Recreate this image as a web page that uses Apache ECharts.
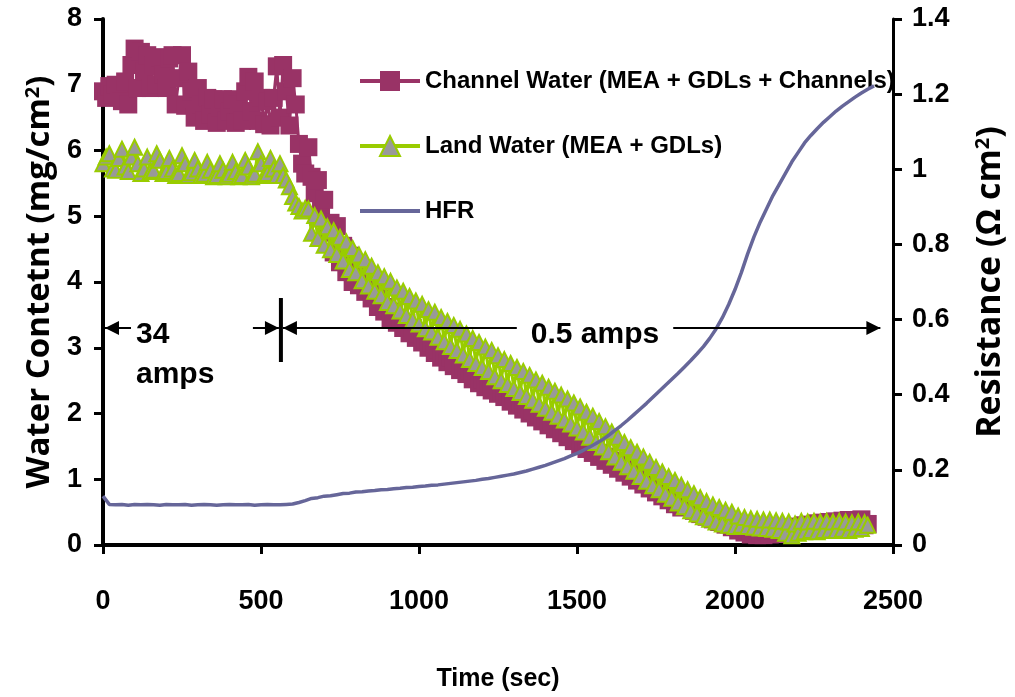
<!DOCTYPE html>
<html>
<head>
<meta charset="utf-8">
<title>Water content and HFR during drying</title>
<script src="https://cdn.jsdelivr.net/npm/echarts@6/dist/echarts.min.js"></script>
<style>
  html, body { margin: 0; padding: 0; background: #ffffff; }
  #chart { width: 1015px; height: 697px; }
</style>
</head>
<body>
<div id="chart"></div>
<script>
// Water readings (s), one every 10 s
const waterTime = [0,10,20,30,40,50,60,70,80,90,100,110,120,130,140,150,160,170,180,190,200,210,220,230,240,250,260,270,280,290,300,310,320,330,340,350,360,370,380,390,400,410,420,430,440,450,460,470,480,490,500,510,520,530,540,550,560,570,580,590,600,610,620,630,640,650,660,670,680,690,700,710,720,730,740,750,760,770,780,790,800,810,820,830,840,850,860,870,880,890,900,910,920,930,940,950,960,970,980,990,1000,1010,1020,1030,1040,1050,1060,1070,1080,1090,1100,1110,1120,1130,1140,1150,1160,1170,1180,1190,1200,1210,1220,1230,1240,1250,1260,1270,1280,1290,1300,1310,1320,1330,1340,1350,1360,1370,1380,1390,1400,1410,1420,1430,1440,1450,1460,1470,1480,1490,1500,1510,1520,1530,1540,1550,1560,1570,1580,1590,1600,1610,1620,1630,1640,1650,1660,1670,1680,1690,1700,1710,1720,1730,1740,1750,1760,1770,1780,1790,1800,1810,1820,1830,1840,1850,1860,1870,1880,1890,1900,1910,1920,1930,1940,1950,1960,1970,1980,1990,2000,2010,2020,2030,2040,2050,2060,2070,2080,2090,2100,2110,2120,2130,2140,2150,2160,2170,2180,2190,2200,2210,2220,2230,2240,2250,2260,2270,2280,2290,2300,2310,2320,2330,2340,2350,2360,2370,2380,2390,2400,2410,2420];

// Water content, MEA + GDLs + channels (mg/cm^2)
const channelWater = [6.9,6.8,6.98,6.85,7.0,6.82,6.75,7.05,6.7,7.3,7.55,6.95,7.5,7.2,7.45,6.95,7.3,7.0,7.42,7.15,6.95,7.4,7.45,6.7,7.1,7.45,6.68,7.2,6.9,6.5,6.95,6.7,6.45,6.8,6.55,6.78,6.42,6.65,6.78,6.45,6.6,6.78,6.42,6.7,6.45,6.9,7.12,6.6,7.05,6.45,6.8,6.4,6.75,6.38,6.8,7.28,6.5,7.3,6.9,6.38,7.1,6.7,6.1,5.8,5.65,6.05,5.6,5.35,5.55,5.1,5.25,4.75,4.9,4.45,4.85,4.3,4.55,4.15,4.4,4.0,4.25,3.95,4.1,3.85,3.98,3.75,3.88,3.62,3.75,3.55,3.62,3.45,3.55,3.38,3.45,3.3,3.38,3.22,3.3,3.15,3.22,3.08,3.12,3.0,3.08,2.92,2.98,2.85,2.92,2.78,2.85,2.72,2.78,2.66,2.72,2.6,2.65,2.52,2.58,2.46,2.52,2.4,2.45,2.35,2.4,2.3,2.33,2.25,2.28,2.18,2.22,2.12,2.16,2.06,2.1,2.0,2.04,1.94,1.98,1.88,1.94,1.82,1.88,1.76,1.82,1.7,1.75,1.64,1.7,1.58,1.64,1.52,1.58,1.46,1.52,1.4,1.46,1.34,1.4,1.28,1.34,1.22,1.28,1.16,1.22,1.1,1.16,1.04,1.1,0.98,1.04,0.92,0.98,0.86,0.92,0.8,0.86,0.74,0.8,0.68,0.74,0.62,0.68,0.57,0.62,0.58,0.62,0.52,0.56,0.47,0.52,0.43,0.48,0.39,0.44,0.35,0.4,0.31,0.35,0.27,0.3,0.22,0.26,0.19,0.23,0.16,0.2,0.15,0.19,0.15,0.2,0.16,0.22,0.17,0.23,0.18,0.25,0.2,0.27,0.22,0.28,0.23,0.3,0.25,0.31,0.26,0.33,0.27,0.34,0.28,0.35,0.29,0.36,0.3,0.37,0.3,0.38,0.31,0.38,0.31,0.39,0.3,0.32];

// Water content, MEA + GDLs under the lands (mg/cm^2)
const landWater = [5.8,5.9,5.95,5.72,5.7,5.88,6.02,5.75,5.68,5.9,6.05,5.8,5.65,5.72,5.9,5.68,5.7,5.95,5.85,5.65,5.68,5.88,5.72,5.62,5.65,5.92,5.8,5.62,5.66,5.85,5.72,5.62,5.64,5.82,5.7,5.6,5.62,5.8,5.7,5.6,5.64,5.82,5.68,5.6,5.62,5.85,5.75,5.6,5.64,5.98,5.8,5.62,5.65,5.88,5.72,5.62,5.8,5.62,5.55,5.45,5.3,5.2,5.15,5.08,5.12,5.11,4.74,5.01,4.66,4.96,4.56,4.84,4.49,4.78,4.42,4.68,4.32,4.61,4.19,4.51,4.14,4.41,4.02,4.34,3.94,4.24,3.86,4.14,3.79,4.08,3.69,4.01,3.64,3.91,3.56,3.86,3.49,3.78,3.42,3.71,3.36,3.66,3.29,3.58,3.24,3.54,3.16,3.46,3.09,3.4,3.02,3.34,2.96,3.28,2.89,3.21,2.82,3.14,2.76,3.08,2.7,3.01,2.64,2.96,2.56,2.88,2.5,2.82,2.44,2.76,2.38,2.7,2.32,2.64,2.26,2.58,2.2,2.51,2.14,2.46,2.08,2.4,2.02,2.34,1.96,2.28,1.9,2.22,1.84,2.16,1.78,2.1,1.72,2.02,1.64,1.96,1.56,1.88,1.49,1.8,1.42,1.72,1.34,1.64,1.26,1.56,1.19,1.48,1.12,1.41,1.04,1.34,0.97,1.26,0.9,1.18,0.84,1.11,0.77,1.04,0.71,0.98,0.64,0.91,0.58,0.84,0.52,0.78,0.47,0.72,0.43,0.66,0.39,0.61,0.35,0.57,0.32,0.53,0.3,0.5,0.28,0.44,0.3,0.42,0.28,0.4,0.27,0.39,0.26,0.38,0.25,0.38,0.24,0.37,0.22,0.36,0.18,0.35,0.14,0.32,0.18,0.36,0.2,0.35,0.22,0.36,0.2,0.35,0.22,0.36,0.23,0.35,0.22,0.36,0.24,0.35,0.22,0.34,0.24,0.35,0.25,0.34,0.3];

// HFR readings (s), one every 20 s
const hfrTime = [0,20,40,60,80,100,120,140,160,180,200,220,240,260,280,300,320,340,360,380,400,420,440,460,480,500,520,540,560,580,600,620,640,660,680,700,720,740,760,780,800,820,840,860,880,900,920,940,960,980,1000,1020,1040,1060,1080,1100,1120,1140,1160,1180,1200,1220,1240,1260,1280,1300,1320,1340,1360,1380,1400,1420,1440,1460,1480,1500,1520,1540,1560,1580,1600,1620,1640,1660,1680,1700,1720,1740,1760,1780,1800,1820,1840,1860,1880,1900,1920,1940,1960,1980,2000,2020,2040,2060,2080,2100,2120,2140,2160,2180,2200,2220,2240,2260,2280,2300,2320,2340,2360,2380,2400,2420,2440];

// High-frequency resistance (Ohm cm^2)
const hfr = [0.13,0.108,0.107,0.108,0.106,0.108,0.107,0.108,0.107,0.106,0.108,0.107,0.107,0.108,0.106,0.107,0.108,0.107,0.106,0.107,0.108,0.107,0.107,0.108,0.106,0.107,0.108,0.107,0.107,0.108,0.109,0.113,0.118,0.124,0.126,0.13,0.131,0.134,0.137,0.138,0.141,0.142,0.144,0.145,0.147,0.148,0.15,0.151,0.153,0.154,0.156,0.157,0.159,0.16,0.162,0.164,0.166,0.168,0.17,0.172,0.175,0.177,0.18,0.183,0.186,0.189,0.193,0.197,0.202,0.207,0.212,0.218,0.224,0.23,0.237,0.244,0.252,0.261,0.27,0.28,0.292,0.305,0.318,0.332,0.347,0.362,0.377,0.393,0.409,0.425,0.441,0.457,0.474,0.491,0.509,0.528,0.55,0.575,0.605,0.64,0.68,0.725,0.775,0.82,0.86,0.895,0.93,0.96,0.99,1.02,1.045,1.07,1.09,1.108,1.125,1.14,1.155,1.168,1.18,1.192,1.203,1.213,1.222];

// Load-step annotation: 34 A until the switch, then 0.5 A
const switchTime = 563;
const annotLevel = 3.3;
const annotEndTime = 2460;
const lowCurrentLabelTime = 1557;

const SERIES_CHANNEL = 'Channel Water (MEA + GDLs + Channels)';
const SERIES_LAND = 'Land Water (MEA + GDLs)';
const SERIES_HFR = 'HFR';

const FONT_ARIAL = '"Liberation Sans", Arial, sans-serif';
const FONT_TITLE = '"Open Sans", "Noto Sans", sans-serif';

const pair = (xs, ys) => ys.map((v, i) => [xs[i], v]);

const chart = echarts.init(document.getElementById('chart'), null, { renderer: 'canvas' });

const tickLabel = { color: '#000', fontFamily: FONT_ARIAL, fontWeight: 'bold', fontSize: 27 };
const axisBlack = (w) => ({ show: true, onZero: false, lineStyle: { color: '#000', width: w } });
const tickBlack = { show: true, length: 9, lineStyle: { color: '#000', width: 3 } };
const supStyle = { fontFamily: FONT_TITLE, fontWeight: 'bold', fontSize: 20, verticalAlign: 'top', color: '#000' };

chart.setOption({
  animation: false,
  backgroundColor: '#ffffff',
  grid: { left: 103, right: 122, top: 19, bottom: 144, containLabel: false },
  legend: {
    orient: 'vertical',
    left: 353,
    top: 61,
    itemWidth: 60,
    itemHeight: 25,
    itemGap: 35,
    textStyle: { color: '#000', fontFamily: FONT_ARIAL, fontWeight: 'bold', fontSize: 24, lineHeight: 30 },
    data: [
      { name: SERIES_CHANNEL, lineStyle: { width: 4 } },
      { name: SERIES_LAND, lineStyle: { width: 4 } },
      { name: SERIES_HFR, lineStyle: { width: 4 }, itemStyle: { opacity: 0 } }
    ]
  },
  xAxis: {
    type: 'value',
    min: 0, max: 2500, interval: 500,
    axisLine: axisBlack(4),
    axisTick: tickBlack,
    splitLine: { show: false },
    axisLabel: Object.assign({ margin: 43, formatter: (v) => String(v) }, tickLabel),
    name: 'Time (sec)',
    nameLocation: 'middle',
    nameGap: 122,
    nameTextStyle: { color: '#000', fontFamily: FONT_ARIAL, fontWeight: 'bold', fontSize: 25 }
  },
  yAxis: [
    {
      type: 'value',
      position: 'left',
      min: 0, max: 8, interval: 1,
      axisLine: axisBlack(4),
      axisTick: tickBlack,
      splitLine: { show: false },
      axisLabel: Object.assign({ margin: 21 }, tickLabel),
      name: 'Water Contetnt (mg/cm{sup|2})',
      nameLocation: 'middle',
      nameRotate: 90,
      nameGap: 41,
      nameTextStyle: {
        color: '#000', fontFamily: FONT_TITLE, fontWeight: 'bold', fontSize: 33,
        rich: { sup: supStyle }
      }
    },
    {
      type: 'value',
      position: 'right',
      min: 0, max: 1.4, interval: 0.2,
      axisLine: axisBlack(3),
      axisTick: tickBlack,
      splitLine: { show: false },
      axisLabel: Object.assign({ margin: 19, formatter: (v) => String(Math.round(v * 10) / 10) }, tickLabel),
      name: 'Resistance (\u03A9 cm{sup|2})',
      nameLocation: 'middle',
      nameRotate: 90,
      nameGap: 80,
      nameTextStyle: {
        color: '#000', fontFamily: FONT_TITLE, fontWeight: 'bold', fontSize: 34,
        rich: { sup: supStyle }
      }
    }
  ],
  series: [
    {
      name: SERIES_CHANNEL,
      type: 'line',
      data: pair(waterTime, channelWater),
      symbol: 'rect',
      symbolSize: 18,
      showAllSymbol: true,
      itemStyle: { color: '#993366' },
      lineStyle: { color: '#993366', width: 3 },
      z: 2
    },
    {
      name: SERIES_LAND,
      type: 'line',
      data: pair(waterTime, landWater),
      symbol: 'triangle',
      symbolSize: 15,
      showAllSymbol: true,
      itemStyle: { color: '#999999', borderColor: '#99CC00', borderWidth: 2 },
      lineStyle: { color: '#99CC00', width: 3 },
      z: 3
    },
    {
      name: SERIES_HFR,
      type: 'line',
      yAxisIndex: 1,
      data: pair(hfrTime, hfr),
      symbol: 'none',
      itemStyle: { color: '#666699' },
      lineStyle: { color: '#666699', width: 3.5 },
      z: 4
    }
  ]
});

// Current-step annotation, placed through the axes
const px = (t) => chart.convertToPixel({ xAxisIndex: 0 }, t);
const yLevel = chart.convertToPixel({ yAxisIndex: 0 }, annotLevel);
const x0 = px(0);
const xs = px(switchTime);
const xe = px(annotEndTime);

function hLine(xa, xb) {
  return { type: 'line', z: 100, shape: { x1: xa, y1: yLevel, x2: xb, y2: yLevel }, style: { stroke: '#000', lineWidth: 2 } };
}
// dir = -1 points left, +1 points right
function arrowHead(tipX, dir) {
  return {
    type: 'polygon', z: 101,
    shape: { points: [[tipX, yLevel], [tipX - dir * 14, yLevel - 7], [tipX - dir * 14, yLevel + 7]] },
    style: { fill: '#000' }
  };
}
function label(text, x, y, align, bg) {
  return {
    type: 'text', z: 102, x: x, y: y,
    style: {
      text: text, fill: '#000', font: 'bold 30px ' + FONT_ARIAL,
      align: align, verticalAlign: 'middle',
      backgroundColor: bg || null, padding: bg ? [2, 14] : 0
    }
  };
}

chart.setOption({
  graphic: [
    hLine(x0 + 2, x0 + 28),
    arrowHead(x0 + 2, -1),
    label('34', x0 + 33, yLevel + 7, 'left'),
    label('amps', x0 + 33, yLevel + 47, 'left'),
    hLine(xs - 28, xs - 2),
    arrowHead(xs - 2, 1),
    { type: 'rect', z: 101, shape: { x: xs - 2, y: yLevel - 30, width: 4, height: 64 }, style: { fill: '#000' } },
    hLine(xs + 2, xe),
    arrowHead(xs + 2, -1),
    arrowHead(xe, 1),
    label('0.5 amps', px(lowCurrentLabelTime), yLevel + 7, 'center', '#ffffff')
  ]
});
</script>
</body>
</html>
